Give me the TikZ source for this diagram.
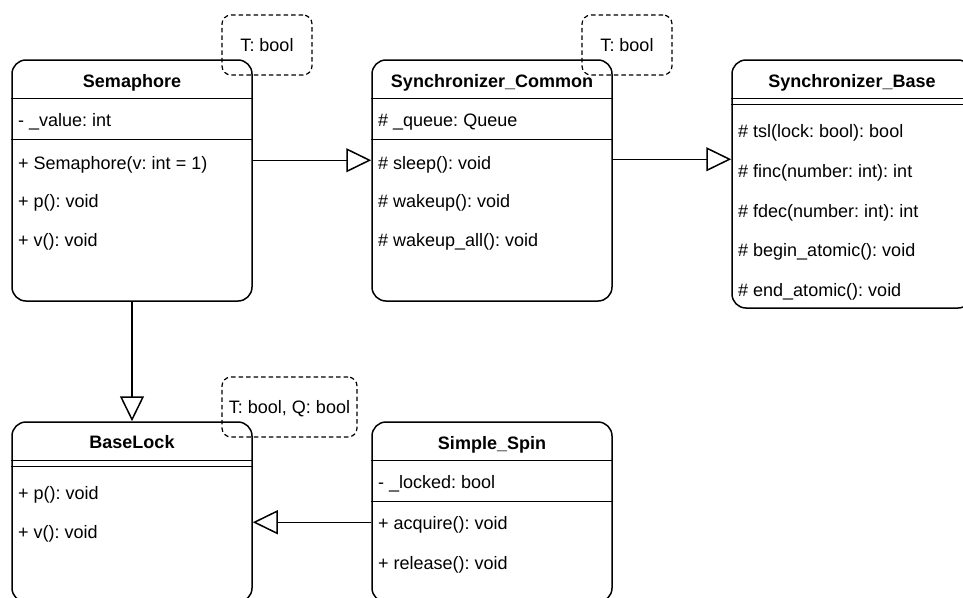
\documentclass[tikz,border=0pt]{standalone}
\usepackage{fontspec}
\setmainfont{Liberation Sans}
\usetikzlibrary{arrows.meta}
\frenchspacing
\begin{document}
\begin{tikzpicture}[x=1pt,y=-1pt,
  classbox/.style={draw, line width=1.5pt, rounded corners=14pt, minimum width=240pt, inner sep=0pt},
  sepline/.style={line width=1.5pt},
  ctitle/.style={font=\fontsize{18}{21.6}\selectfont\bfseries, anchor=base, inner sep=0pt},
  citem/.style={font=\fontsize{18}{21.6}\selectfont, anchor=base west, inner sep=0pt},
  notebox/.style={draw, dash pattern=on 4.5pt off 3pt, line width=1.2pt, rounded corners=9pt, inner sep=0pt},
  notetext/.style={font=\fontsize{18}{21.6}\selectfont, anchor=base, inner sep=0pt},
  inh/.style={line width=1.5pt, -{Triangle[open, length=25pt, width=24pt]}}
]
\path[use as bounding box, clip] (0,0) rectangle (963,597);

% ---------- Semaphore ----------
\node[classbox, minimum height=241pt] (sem) at (132,180.5) {};
\draw[sepline] ([yshift=-39pt]sem.north west) -- ([yshift=-39pt]sem.north east);
\draw[sepline] ([yshift=-80pt]sem.north west) -- ([yshift=-80pt]sem.north east);
\node[ctitle] (semT) at (132,87.5) {Semaphore};
\node[citem] (semA) at (18,126.5) {- \_value: int};
\node[citem] (semM1) at (18,169) {+ Semaphore(v: int = 1)};
\node[citem] (semM2) at (18,207.5) {+ p(): void};
\node[citem] (semM3) at (18,246) {+ v(): void};

% ---------- Synchronizer_Common ----------
\node[classbox, minimum height=241pt] (sc) at (492,180.5) {};
\draw[sepline] ([yshift=-39pt]sc.north west) -- ([yshift=-39pt]sc.north east);
\draw[sepline] ([yshift=-80pt]sc.north west) -- ([yshift=-80pt]sc.north east);
\node[ctitle] (scT) at (492,87.5) {Synchronizer\_Common};
\node[citem] (scA) at (378,126.5) {\# \_queue: Queue};
\node[citem] (scM1) at (378,169) {\# sleep(): void};
\node[citem] (scM2) at (378,207.5) {\# wakeup(): void};
\node[citem] (scM3) at (378,246) {\# wakeup\_all(): void};

% ---------- Synchronizer_Base ----------
\node[classbox, minimum height=248pt] (sb) at (852,184) {};
\draw[sepline] ([yshift=-39pt]sb.north west) -- ([yshift=-39pt]sb.north east);
\draw[sepline] ([yshift=-45pt]sb.north west) -- ([yshift=-45pt]sb.north east);
\node[ctitle] (sbT) at (852,87.5) {Synchronizer\_Base};
\node[citem] (sbM1) at (738,137.5) {\# tsl(lock: bool): bool};
\node[citem] (sbM2) at (738,177.5) {\# finc(number: int): int};
\node[citem] (sbM3) at (738,217) {\# fdec(number: int): int};
\node[citem] (sbM4) at (738,256.5) {\# begin\_atomic(): void};
\node[citem] (sbM5) at (738,296) {\# end\_atomic(): void};

% ---------- BaseLock ----------
\node[classbox, minimum height=180pt] (bl) at (132,512) {};
\draw[sepline] ([yshift=-39pt]bl.north west) -- ([yshift=-39pt]bl.north east);
\draw[sepline] ([yshift=-45pt]bl.north west) -- ([yshift=-45pt]bl.north east);
\node[ctitle] (blT) at (132,448.5) {BaseLock};
\node[citem] (blM1) at (18,499.5) {+ p(): void};
\node[citem] (blM2) at (18,538.5) {+ v(): void};

% ---------- Simple_Spin ----------
\node[classbox, minimum height=180pt] (ss) at (492,512) {};
\draw[sepline] ([yshift=-39pt]ss.north west) -- ([yshift=-39pt]ss.north east);
\draw[sepline] ([yshift=-80pt]ss.north west) -- ([yshift=-80pt]ss.north east);
\node[ctitle] (ssT) at (492,449.5) {Simple\_Spin};
\node[citem] (ssA) at (378,488) {- \_locked: bool};
\node[citem] (ssM1) at (378,529.5) {+ acquire(): void};
\node[citem] (ssM2) at (378,569.5) {+ release(): void};

% ---------- template notes ----------
\node[notebox, minimum width=90pt, minimum height=60pt] (n1) at (267,45) {};
\node[notetext] (n1t) at (267,51.5) {T: bool};
\node[notebox, minimum width=90pt, minimum height=60pt] (n2) at (627,45) {};
\node[notetext] (n2t) at (627,51.5) {T: bool};
\node[notebox, minimum width=135pt, minimum height=60pt] (n3) at (289.5,407) {};
\node[notetext] (n3t) at (289.5,413.5) {T: bool, Q: bool};

% ---------- generalisations ----------
\draw[inh] ([yshift=-101pt]sem.north east) -- ([yshift=-101pt]sc.north west);
\draw[inh] ([yshift=-100pt]sc.north east) -- ([yshift=-100pt]sb.north west);
\draw[inh] (sem.south) -- (bl.north);
\draw[inh] ([yshift=-101pt]ss.north west) -- ([yshift=-101pt]bl.north east);
\end{tikzpicture}
\end{document}
